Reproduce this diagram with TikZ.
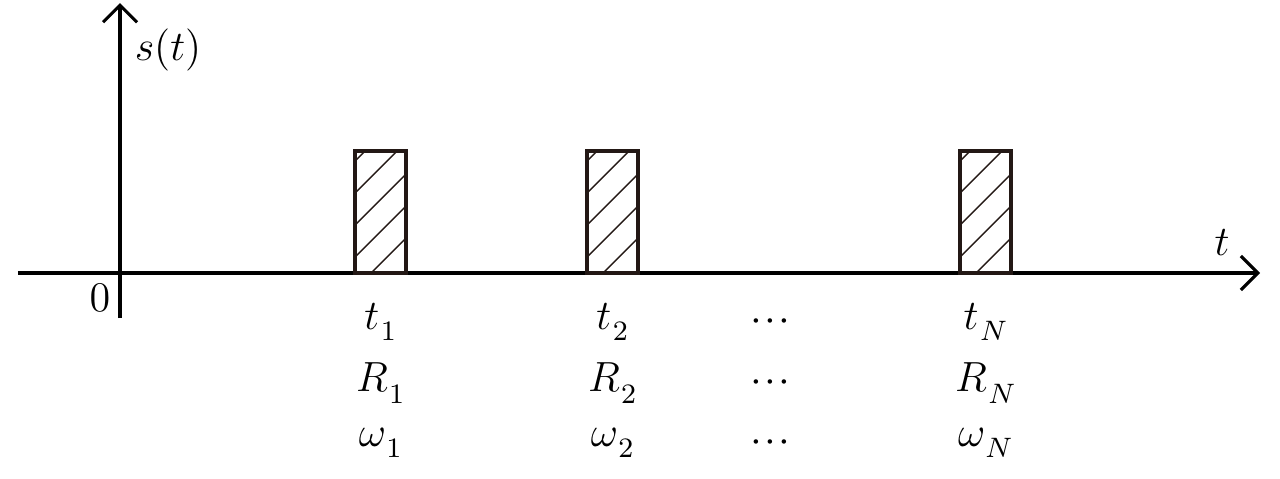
\documentclass[tikz,border=0pt]{standalone}
\usetikzlibrary{arrows.meta}
\definecolor{pulsecol}{RGB}{35,24,21}
\newcommand{\mydots}{${\cdot}\mkern1mu{\cdot}\mkern1mu{\cdot}$}
\newcommand{\lowsub}[1]{_{\mkern1mu\lower1.5pt\hbox{$\scriptstyle #1$}}}
\begin{document}
\begin{tikzpicture}[line width=0.9pt, >={Straight Barb[length=1.7mm,width=3.4mm]}, every node/.style={font=\large}]
	\useasboundingbox (-1.2,-2.05) rectangle (11.6,2.73);
	\draw[->] (-1.02,0) -- (11.4,0);
	\draw[->] (0,-0.45) -- (0,2.70);
	\node (zero) at (-0.20,-0.25) {$0$};
	\node (sig) at (0.48,2.23) {$s(t)$};
	\node (time) at (11.02,0.30) {$t$};
	\foreach \x/\i in {2.35/1,4.67/2,8.40/N} {
		\begin{scope}
			\clip (\x,0) rectangle ++(0.51,1.22);
			\foreach \k in {-0.48,-0.16,...,1.2} \draw[pulsecol, line width=0.4pt] (\x,\k) -- ++(0.7,0.7);
		\end{scope}
		\draw[pulsecol, line width=1pt] (\x,0) rectangle ++(0.51,1.22);
		\node (t\i) at (\x+0.26,-0.49) {$t\lowsub{\i}$};
		\node (R\i) at (\x+0.26,-1.10) {$R\lowsub{\i}$};
		\node (w\i) at (\x+0.26,-1.70) {$\omega\lowsub{\i}$};
	}
	\node (dt) at (6.50,-0.49) {\mydots};
	\node (dR) at (6.50,-1.10) {\mydots};
	\node (dw) at (6.50,-1.70) {\mydots};
\end{tikzpicture}
\end{document}
